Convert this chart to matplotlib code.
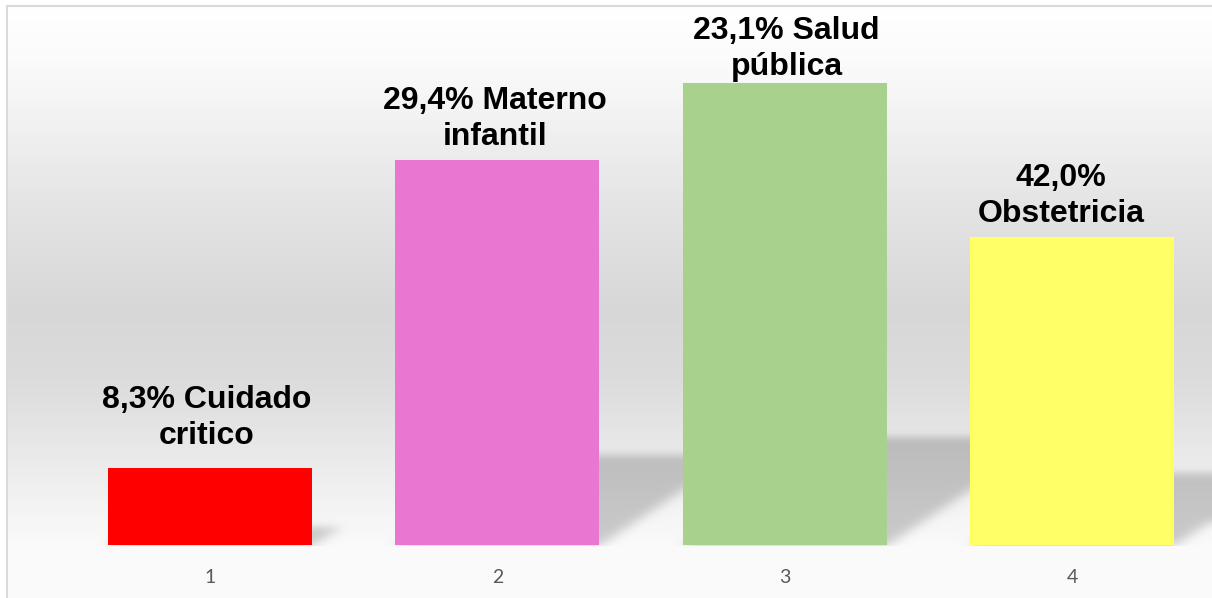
import numpy as np
import matplotlib
matplotlib.use("Agg")
import matplotlib.pyplot as plt

# Data
categories = ["1", "2", "3", "4"]
counts = [1, 5, 6, 4]
shares = [8.3, 29.4, 23.1, 42.0]
areas = ["Cuidado critico", "Materno infantil", "Salud pública", "Obstetricia"]

# Styling
bar_colors = ["#ff0000", "#e976d0", "#a9d18e", "#ffff66"]
label_rise = [24, 15, 8, 15]      # px between bar top and last label baseline
label_shift = [-3, -2, 2, -11]    # px horizontal nudge of each label
line_gap = 36                      # px between label baselines

W, H = 1212, 598
fig = plt.figure(figsize=(W / 100, H / 100), dpi=100)

slot = (1072 - 210) / 3
ax_left = 210 - slot / 2
ax = fig.add_axes([ax_left / W, 53 / H, 4 * slot / W, 539 / H])
ax.set_xlim(-0.5, 3.5)
ax.set_ylim(0, 7)
ax.set_facecolor("none")

# ---- background: chart-area gradient with perspective bar shadows ----
rows = np.arange(H)[:, None].astype(float)
cols = np.arange(W)[None, :].astype(float)
key_rows = [6, 60, 100, 150, 200, 310, 380, 450, 520, 545, 598]
key_lvls = [255, 251, 245, 237, 229, 215, 220, 233, 246, 250, 251]
grad = np.interp(np.arange(H), key_rows, key_lvls) / 255.0
bg = np.repeat(grad[:, None], W, axis=1)

bar_width = 0.71
mask = np.zeros((H, W))
for i, v in enumerate(counts):
    (xl, yb), (xr, yt) = ax.transData.transform([(i - bar_width / 2, 0), (i + bar_width / 2, v)])
    rb, rt = H - yb, H - yt
    hs = 0.235 * (rb - rt)
    k = 1.5
    lift = rb - rows
    inside = (lift >= 0) & (lift <= hs) & (cols >= xl + k * lift) & (cols <= xr + k * lift)
    mask = np.maximum(mask, inside.astype(float))


def blur(a, sigma, axis):
    r = int(3 * sigma)
    x = np.arange(-r, r + 1)
    kern = np.exp(-0.5 * (x / sigma) ** 2)
    kern /= kern.sum()
    pad = [(0, 0), (0, 0)]
    pad[axis] = (r, r)
    a = np.pad(a, pad, mode="edge")
    return np.apply_along_axis(lambda m: np.convolve(m, kern, mode="valid"), axis, a)


mask = blur(blur(mask, 7, 1), 4, 0)
base_row = H - ax.transData.transform((0, 0))[1]
mask[int(base_row) + 1:, :] = 0
bg = bg * (1 - 0.19 * mask)

# outside the chart frame is plain white, frame border light gray
bg[:6, :] = 1.0
bg[:, :7] = 1.0
border = 0xd9 / 255
bg[5:7, 6:] = border
bg[5:, 6:8] = border

fig.figimage(np.dstack([bg, bg, bg]), xo=0, yo=0, origin="upper", zorder=-1)

# ---- bars ----
x = np.arange(len(categories))
ax.bar(x, counts, width=bar_width, color=bar_colors, zorder=3)

# ---- data labels ----
for i, (v, s, name) in enumerate(zip(counts, shares, areas)):
    words = (f"{s:.1f}".replace(".", ",") + "% " + name).split()
    lines = [" ".join(words[:-1]), words[-1]]
    for j, line in enumerate(lines):
        ax.annotate(line, xy=(i, v), xytext=(label_shift[i], label_rise[i] + (1 - j) * line_gap),
                    textcoords="offset pixels", ha="center", va="baseline",
                    fontsize=23, fontweight="bold", family="Liberation Sans",
                    color="black", annotation_clip=False, zorder=5)

# ---- axes styling ----
ax.set_xticks(x)
ax.set_xticklabels(categories, fontsize=14, color="#595959", family=["Lato", "DejaVu Sans"])
ax.tick_params(axis="x", length=0, pad=17)
ax.set_yticks([])
for side in ["top", "right", "left", "bottom"]:
    ax.spines[side].set_visible(False)

fig.savefig("out.png", dpi=100)
